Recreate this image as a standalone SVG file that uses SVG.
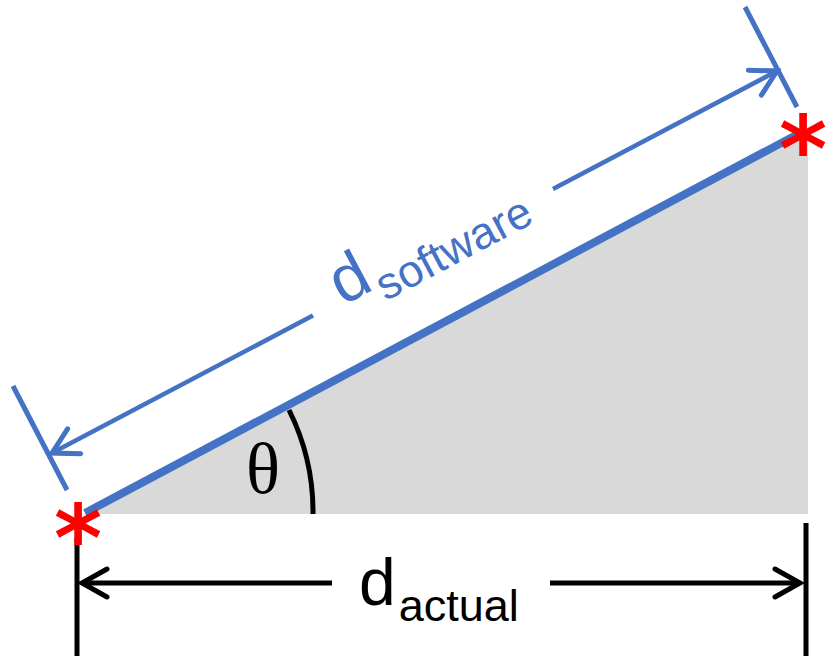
<svg xmlns="http://www.w3.org/2000/svg" width="828" height="656" viewBox="0 0 828 656">
  <style>
    .blue { stroke: #4472C4; fill: none; stroke-linecap: butt; }
    .blk { stroke: #000; fill: none; }
    .star { font-family: "DejaVu Sans", sans-serif; font-weight: bold; font-size: 92px; fill: #FF0000; text-anchor: middle; }
    .lbl { font-family: "Liberation Sans", Arial, sans-serif; }
  </style>
  <defs>
    <marker id="arrB" markerUnits="userSpaceOnUse" markerWidth="40" markerHeight="40" refX="0" refY="0" viewBox="-30 -20 40 40" orient="auto" overflow="visible">
      <path d="M -25 -14 L 0 0 L -25 14" fill="none" stroke="#4472C4" stroke-width="5" stroke-linecap="round" stroke-linejoin="miter"/>
    </marker>
    <marker id="arrK" markerUnits="userSpaceOnUse" markerWidth="40" markerHeight="40" refX="0" refY="0" viewBox="-30 -20 40 40" orient="auto" overflow="visible">
      <path d="M -25 -14 L 0 0 L -25 14" fill="none" stroke="#000" stroke-width="5" stroke-linecap="round" stroke-linejoin="miter"/>
    </marker>
  </defs>

  <g id="triangle">
    <polygon points="85,514 808,514 808,131" fill="#D9D9D9"/>
    <line x1="85" y1="513" x2="800" y2="133" stroke="#4472C4" stroke-width="8"/>
  </g>

  <g id="angle">
    <path d="M 289 410 A 228 228 0 0 1 313 514" class="blk" stroke-width="5"/>
    <text x="263" y="493" font-family="Liberation Serif, serif" font-size="71" text-anchor="middle" fill="#000">θ</text>
  </g>

  <g id="connectors">
    <!-- software dimension -->
    <line x1="13" y1="386" x2="67" y2="490" class="blue" stroke-width="5"/>
    <line x1="745" y1="7" x2="797" y2="107" class="blue" stroke-width="5"/>
    <line x1="313" y1="315.5" x2="52" y2="453" class="blue" stroke-width="4.5" marker-end="url(#arrB)"/>
    <line x1="553" y1="189" x2="777" y2="71" class="blue" stroke-width="4.5" marker-end="url(#arrB)"/>
    <!-- actual dimension -->
    <line x1="77" y1="538" x2="77" y2="656" class="blk" stroke-width="5"/>
    <line x1="806" y1="523" x2="806" y2="656" class="blk" stroke-width="5"/>
    <line x1="332" y1="583" x2="82" y2="583" class="blk" stroke-width="5" marker-end="url(#arrK)"/>
    <line x1="550" y1="583" x2="800" y2="583" class="blk" stroke-width="5" marker-end="url(#arrK)"/>
  </g>

  <g id="label-software">
    <text class="lbl" transform="translate(343,306) rotate(-28)" fill="#4472C4" font-size="66">d<tspan dx="3" dy="16" font-size="45">software</tspan></text>
  </g>

  <g id="label-actual">
    <text class="lbl" x="359" y="605" fill="#000" font-size="66">d<tspan dx="3" dy="16" font-size="45">actual</tspan></text>
  </g>

  <g id="point-start">
    <text class="star" x="78" y="571">*</text>
  </g>
  <g id="point-end">
    <text class="star" x="803" y="182">*</text>
  </g>
</svg>
